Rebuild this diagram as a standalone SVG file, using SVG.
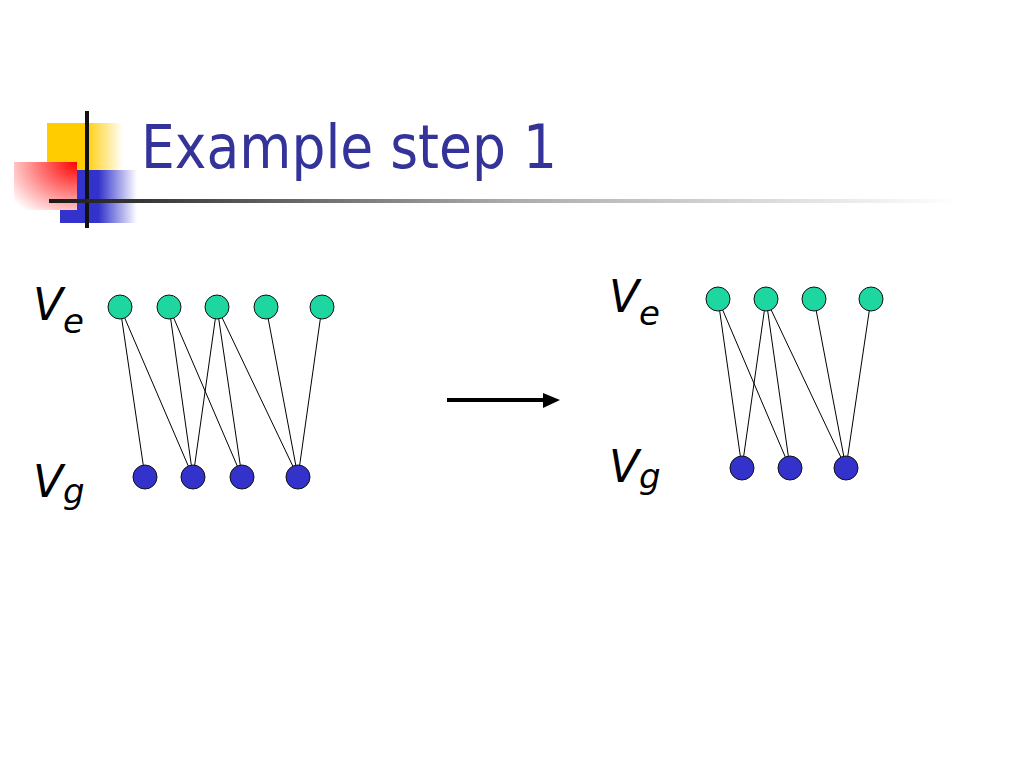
<svg xmlns="http://www.w3.org/2000/svg" width="1024" height="768" viewBox="0 0 1024 768">
<defs>
<linearGradient id="gy" x1="0" y1="0" x2="1" y2="0"><stop offset="0" stop-color="#FFCC00"/><stop offset="0.5" stop-color="#FFCC00"/><stop offset="1" stop-color="#FFFFFF"/></linearGradient>
<linearGradient id="gb" x1="0" y1="0" x2="1" y2="0"><stop offset="0" stop-color="#3333CC"/><stop offset="0.5" stop-color="#3333CC"/><stop offset="1" stop-color="#FFFFFF"/></linearGradient>
<radialGradient id="gr" cx="1" cy="0" r="1.3"><stop offset="0" stop-color="#FF0000"/><stop offset="1" stop-color="#FFFFFF"/></radialGradient>
<linearGradient id="gl" x1="0" y1="0" x2="1" y2="0"><stop offset="0" stop-color="#1a1a1a"/><stop offset="0.5" stop-color="#aaaaaa"/><stop offset="1" stop-color="#FFFFFF"/></linearGradient>
</defs>
<style>
.title{font-family:"DejaVu Sans","Liberation Sans",sans-serif;fill:#333399;font-size:60px}
.lab{font-family:"DejaVu Sans","Liberation Sans",sans-serif;font-style:italic;fill:#000;font-size:44px}
.sub{font-size:34px}
.e{stroke:#000;stroke-width:1;fill:none}
.top{fill:#1ED6A0;stroke:#111;stroke-width:1}
.bot{fill:#3333CC;stroke:#111;stroke-width:1}
</style>
<rect width="1024" height="768" fill="#fff"/>
<g id="logo">
<rect x="47" y="123" width="76" height="47" fill="url(#gy)"/>
<rect x="60" y="170" width="77" height="53" fill="url(#gb)"/>
<rect x="14" y="162" width="63" height="48" fill="url(#gr)"/>
<rect x="85" y="111" width="4" height="117" fill="#111"/>
<rect x="49" y="199" width="911" height="4" fill="url(#gl)"/>
</g>
<text id="title" class="title" x="141" y="168" textLength="416" lengthAdjust="spacingAndGlyphs">Example step 1</text>
<g id="labels">
<text class="lab" x="33" y="320">V<tspan class="sub" dy="13">e</tspan></text>
<text class="lab" x="33" y="497">V<tspan class="sub" dy="6">g</tspan></text>
<text class="lab" x="609" y="312">V<tspan class="sub" dy="13">e</tspan></text>
<text class="lab" x="609" y="482">V<tspan class="sub" dy="6">g</tspan></text>
</g>
<g id="connectors">
<line class="e" x1="120" y1="307" x2="145" y2="477"/>
<line class="e" x1="120" y1="307" x2="193" y2="477"/>
<line class="e" x1="169" y1="307" x2="193" y2="477"/>
<line class="e" x1="169" y1="307" x2="242" y2="477"/>
<line class="e" x1="217" y1="307" x2="193" y2="477"/>
<line class="e" x1="217" y1="307" x2="242" y2="477"/>
<line class="e" x1="217" y1="307" x2="298" y2="477"/>
<line class="e" x1="266" y1="307" x2="298" y2="477"/>
<line class="e" x1="322" y1="307" x2="298" y2="477"/>
<line class="e" x1="718" y1="299" x2="742" y2="468"/>
<line class="e" x1="718" y1="299" x2="790" y2="468"/>
<line class="e" x1="766" y1="299" x2="742" y2="468"/>
<line class="e" x1="766" y1="299" x2="790" y2="468"/>
<line class="e" x1="766" y1="299" x2="846" y2="468"/>
<line class="e" x1="814" y1="299" x2="846" y2="468"/>
<line class="e" x1="871" y1="299" x2="846" y2="468"/>
<g id="arrow"><line x1="447" y1="400" x2="546" y2="400" stroke="#000" stroke-width="4"/><polygon points="543,393 560,400 543,408" fill="#000"/></g>
</g>
<g id="left-top">
<circle class="top" cx="120" cy="307" r="12"/><circle class="top" cx="169" cy="307" r="12"/><circle class="top" cx="217" cy="307" r="12"/><circle class="top" cx="266" cy="307" r="12"/><circle class="top" cx="322" cy="307" r="12"/>
</g>
<g id="left-bottom">
<circle class="bot" cx="145" cy="477" r="12"/><circle class="bot" cx="193" cy="477" r="12"/><circle class="bot" cx="242" cy="477" r="12"/><circle class="bot" cx="298" cy="477" r="12"/>
</g>
<g id="right-top">
<circle class="top" cx="718" cy="299" r="12"/><circle class="top" cx="766" cy="299" r="12"/><circle class="top" cx="814" cy="299" r="12"/><circle class="top" cx="871" cy="299" r="12"/>
</g>
<g id="right-bottom">
<circle class="bot" cx="742" cy="468" r="12"/><circle class="bot" cx="790" cy="468" r="12"/><circle class="bot" cx="846" cy="468" r="12"/>
</g>
</svg>
